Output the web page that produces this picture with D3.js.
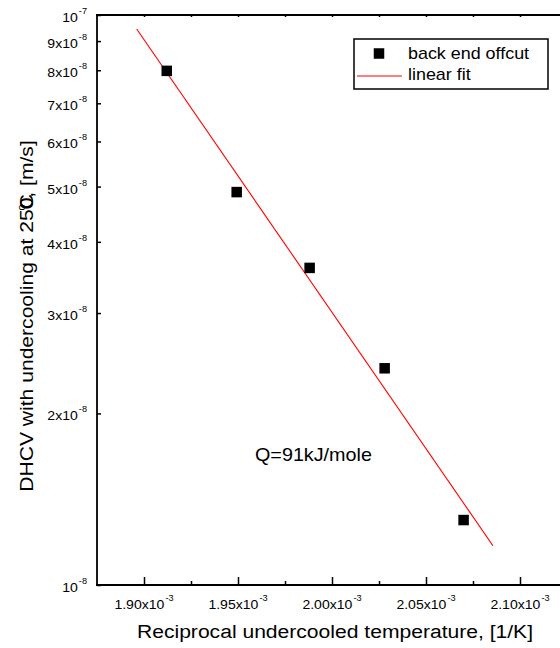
<!DOCTYPE html>
<html>
<head>
<meta charset="utf-8">
<script src="https://cdn.jsdelivr.net/npm/d3@7"></script>
<style>
  html, body { margin: 0; padding: 0; background: #fff; }
  svg { display: block; }
  text { font-family: "Liberation Sans", Arial, sans-serif; fill: #000; }
</style>
</head>
<body>
<svg id="chart" width="560" height="648"></svg>
<script>
// ---- data ----
const reciprocalTemp = [1.9121e-3, 1.9493e-3, 1.9881e-3, 2.0280e-3, 2.0700e-3];
const dhcv = [7.98e-8, 4.89e-8, 3.60e-8, 2.40e-8, 1.30e-8];
const fitX = [1.8961e-3, 2.0856e-3];
const fitY = [9.45e-8, 1.172e-8];

const xMajorTicks = [1.90e-3, 1.95e-3, 2.00e-3, 2.05e-3, 2.10e-3];
const xMinorTicks = [1.925e-3, 1.975e-3, 2.025e-3, 2.075e-3];
const xTickBase = ["1.90x10", "1.95x10", "2.00x10", "2.05x10", "2.10x10"];
const xTickExp = ["-3", "-3", "-3", "-3", "-3"];

const yTicks = [1e-8, 2e-8, 3e-8, 4e-8, 5e-8, 6e-8, 7e-8, 8e-8, 9e-8, 1e-7];
const yTickBase = ["10", "2x10", "3x10", "4x10", "5x10", "6x10", "7x10", "8x10", "9x10", "10"];
const yTickExp = ["-8", "-8", "-8", "-8", "-8", "-8", "-8", "-8", "-8", "-7"];

const legendLabels = ["back end offcut", "linear fit"];
const annotation = "Q=91kJ/mole";
const xTitle = "Reciprocal undercooled temperature, [1/K]";

// ---- layout ----
const svg = d3.select("#chart");
const L = 97, T = 15, B = 585, R = 567;
const x = d3.scaleLinear().domain([1.875e-3, 2.125e-3]).range([L, R]);
const y = d3.scaleLog().domain([1e-8, 1e-7]).range([B, T]);
const SX = 1.08;

// ticks
const bottomMajor = svg.append("g").attr("transform", `translate(0,${B})`)
  .call(d3.axisBottom(x).tickValues(xMajorTicks).tickSize(-8).tickFormat(""));
const bottomMinor = svg.append("g").attr("transform", `translate(0,${B})`)
  .call(d3.axisBottom(x).tickValues(xMinorTicks).tickSize(-4).tickFormat(""));
const topTicks = svg.append("g").attr("transform", `translate(0,${T})`)
  .call(d3.axisTop(x).tickValues(xMajorTicks.concat(xMinorTicks)).tickSize(-2).tickFormat(""));
const leftTicks = svg.append("g").attr("transform", `translate(${L},0)`)
  .call(d3.axisLeft(y).tickValues(yTicks).tickSize(-4).tickFormat(""));
[bottomMajor, bottomMinor, topTicks, leftTicks].forEach(g => {
  g.select(".domain").remove();
  g.selectAll(".tick line").attr("stroke", "#000").attr("stroke-width", 1.5);
});

// frame
const frame = svg.append("g").attr("stroke", "#000").attr("stroke-width", 1.8).attr("fill", "none");
frame.append("line").attr("x1", L).attr("x2", L).attr("y1", T - 0.9).attr("y2", B + 0.9);
frame.append("line").attr("x1", L - 1).attr("x2", R).attr("y1", B).attr("y2", B);
frame.append("line").attr("x1", L - 1).attr("x2", R).attr("y1", T).attr("y2", T);

// x tick labels
xMajorTicks.forEach((v, i) => {
  const g = svg.append("g").attr("transform", `translate(${x(v)},609) scale(${SX},1)`);
  const t = g.append("text").attr("text-anchor", "middle").attr("font-size", 13);
  t.append("tspan").text(xTickBase[i]);
  t.append("tspan").attr("font-size", 8.5).attr("dy", -8).attr("dx", 1).text(xTickExp[i]);
});

// y tick labels
yTicks.forEach((v, i) => {
  const g = svg.append("g").attr("transform", `translate(87,${y(v) + 7}) scale(${SX},1)`);
  const t = g.append("text").attr("text-anchor", "end").attr("font-size", 13);
  t.append("tspan").text(yTickBase[i]);
  t.append("tspan").attr("font-size", 8.5).attr("dy", -8).attr("dx", 1).text(yTickExp[i]);
});

// axis titles
svg.append("g").attr("transform", `translate(335,638) scale(1.11,1)`)
  .append("text").attr("text-anchor", "middle").attr("font-size", 19).text(xTitle);

const yt = svg.append("g").attr("transform", `translate(33,316) rotate(-90) scale(1.11,1)`);
const ytText = yt.append("text").attr("text-anchor", "middle").attr("font-size", 19)
  .text("DHCV with undercooling at 250, [m/s]");
const zeroIdx = "DHCV with undercooling at 25".length;
const p0 = ytText.node().getStartPositionOfChar(zeroIdx);
yt.append("text").attr("x", p0.x).attr("y", p0.y).attr("font-size", 19).text("C");
yt.append("text").attr("x", p0.x - 1).attr("y", p0.y - 8).attr("font-size", 10).text("o");

// fit line
svg.append("path")
  .datum(fitX.map((v, i) => [v, fitY[i]]))
  .attr("fill", "none").attr("stroke", "#ff0000").attr("stroke-width", 1.1)
  .attr("d", d3.line().x(d => x(d[0])).y(d => y(d[1])));

// data squares
const S = 10.5;
svg.append("g").selectAll("rect").data(reciprocalTemp).join("rect")
  .attr("x", (d, i) => x(d) - S / 2)
  .attr("y", (d, i) => y(dhcv[i]) - S / 2)
  .attr("width", S).attr("height", S).attr("fill", "#000");

// annotation
svg.append("g").attr("transform", `translate(255,461) scale(1.04,1)`)
  .append("text").attr("font-size", 19).text(annotation);

// legend
const lg = svg.append("g");
lg.append("rect").attr("x", 354).attr("y", 39).attr("width", 194).attr("height", 50)
  .attr("fill", "#fff").attr("stroke", "#000").attr("stroke-width", 1.5);
lg.append("rect").attr("x", 379 - S / 2).attr("y", 53.5 - S / 2).attr("width", S).attr("height", S).attr("fill", "#000");
lg.append("line").attr("x1", 357).attr("x2", 402).attr("y1", 76).attr("y2", 76)
  .attr("stroke", "#ff0000").attr("stroke-width", 1.1);
legendLabels.forEach((lab, i) => {
  lg.append("g").attr("transform", `translate(408,${59 + i * 21}) scale(1.12,1)`)
    .append("text").attr("font-size", 16).text(lab);
});
</script>
</body>
</html>
